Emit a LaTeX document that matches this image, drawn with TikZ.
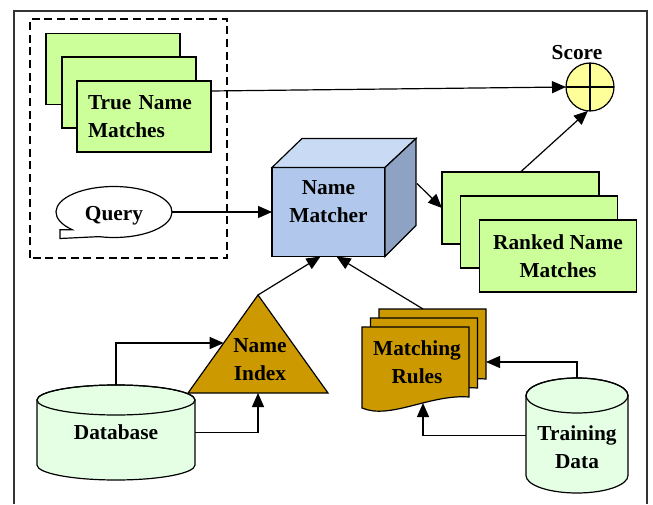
\documentclass[tikz,border=0pt]{standalone}
\usepackage{fontspec}
\setmainfont{Liberation Serif}
\usetikzlibrary{arrows.meta,calc,shapes.geometric}

\definecolor{sheetgreen}{HTML}{CCFF99}
\definecolor{cylgreen}{HTML}{E5FFE5}
\definecolor{gold}{HTML}{CC9900}
\definecolor{cubefront}{HTML}{B1C8EC}
\definecolor{cubetop}{HTML}{C8DAF4}
\definecolor{cubeside}{HTML}{8EA2C3}
\definecolor{scoreyellow}{HTML}{FFFF99}

\begin{document}
\begin{tikzpicture}[x=0.75pt,y=0.75pt,
  every node/.style={font=\bfseries\fontsize{16}{21}\selectfont, outer sep=0pt},
  shape line/.style={draw=black, line width=0.9pt},
  sheet/.style={shape line, fill=sheetgreen, rectangle, minimum width=100.5pt, minimum height=53.25pt},
  ranked/.style={shape line, fill=sheetgreen, rectangle, minimum width=117.75pt, minimum height=54pt, align=center},
  docsheet/.style={shape line, fill=gold},
  arr/.style={line width=0.9pt, -{Triangle[length=10.5pt,width=9pt]}},
  plain/.style={line width=0.9pt},
  label text/.style={align=center, inner sep=0pt},
]
\useasboundingbox (0,0) rectangle (653,504);

% outer frame
\draw[line width=0.8pt, draw=black!80] (14,0) -- (14,493) -- (647,493) -- (647,0);
% dashed group around the ground truth and the query
\draw[line width=0.8pt, dash pattern=on 6pt off 3.5pt] (30,246) rectangle (227,485);

% true name matches (stack of sheets)
\node[sheet] (tnm1) at (113,435) {};
\node[sheet] (tnm2) at (129,411.5) {};
\node[sheet, text width=84pt, inner xsep=8.25pt, align=left] (tnm3) at (144,387.5) {True Name\\Matches};

% query callout
\coordinate (qc) at (114,292);
\draw[shape line, fill=white] ([shift={(224:43.5pt and 19.125pt)}]qc)
  arc[start angle=224, end angle=-105, x radius=43.5pt, y radius=19.125pt]
  -- (60,265.5) -- (60,274.3) -- cycle;
\node[ellipse, minimum width=87pt, minimum height=38.25pt, inner sep=0pt] (query) at (qc) {};
\node[label text] (qtext) at ([yshift=-2.5pt]query.center) {Query};

% name matcher cube
\node[shape line, fill=cubefront, minimum width=84.75pt, minimum height=66.75pt] (nm) at (328.5,292) {};
\draw[shape line, fill=cubetop] (nm.north west) -- ++(30,29) -- ++(114,0) -- (nm.north east) -- cycle;
\draw[shape line, fill=cubeside] (nm.north east) -- ++(31,29) -- ++(0,-87) -- (nm.south east) -- cycle;
\node[label text] (nmtext) at (328.5,302) {Name\\Matcher};
\coordinate (nmOut) at ($(nm.north east)+(32,-16)$);

% score
\node[shape line, circle, fill=scoreyellow, minimum size=36pt, inner sep=0pt] (score) at (590,417) {};
\draw[plain] (score.north) -- (score.south) (score.west) -- (score.east);
\node (scorelabel) at (577,451) {Score};

% ranked name matches (stack of sheets)
\node[ranked] (rk1) at (520.5,296) {};
\node[ranked] (rk2) at (539,272) {};
\node[ranked] (rk3) at (558,248) {Ranked Name\\Matches};

% name index
\coordinate (niT) at (258,209);
\coordinate (niL) at (188,111);
\coordinate (niR) at (328,111);
\draw[shape line, fill=gold] (niL) -- (niT) -- (niR) -- cycle;
\node[label text] (ni) at (260,144) {Name\\Index};

% database cylinder
\draw[shape line, fill=cylgreen] (37,104) -- (37,39)
  arc[start angle=180, end angle=360, x radius=59.25pt, y radius=11.25pt]
  -- (195,104)
  arc[start angle=0, end angle=180, x radius=59.25pt, y radius=11.25pt] -- cycle;
\draw[shape line] (116,104) ellipse[x radius=59.25pt, y radius=11.25pt];
\node[minimum width=118.5pt, minimum height=71.25pt, inner sep=0pt] (db) at (116,71.5) {Database};

% training data cylinder
\draw[shape line, fill=cylgreen] (526,108.5) -- (526,28.5)
  arc[start angle=180, end angle=360, x radius=38.25pt, y radius=13.125pt]
  -- (628,108.5)
  arc[start angle=0, end angle=180, x radius=38.25pt, y radius=13.125pt] -- cycle;
\draw[shape line] (577,108.5) ellipse[x radius=38.25pt, y radius=13.125pt];
\node[minimum width=76.5pt, minimum height=86.25pt, inner sep=0pt] (td) at (577,68.5) {};
\node[label text] (tdtext) at (577,57) {Training\\Data};

% matching rules (stack of documents)
\foreach \dx/\dy in {17/18, 8.5/9, 0/0}
  \draw[docsheet, shift={(\dx,\dy)}] (362,177) -- (469,177) -- (469,107)
    .. controls (430,110) and (390,84) .. (362,96) -- cycle;
\node[label text] (mr) at (417,141.5) {Matching\\Rules};
\coordinate (mrTop) at (423,195);
\coordinate (mrSide) at (486,142);
\coordinate (mrBottom) at (423,101);

% connectors
\draw[arr] ([yshift=-7.5pt]tnm3.north east) -- (score.west);
\draw[arr] (query.east) -- (nm.west);
\draw[arr] (nmOut) -- (rk1.west);
\draw[arr] (rk1.north) -- (score.265);
\draw[arr] (niT) -- ([xshift=-6pt]nm.south);
\draw[arr] (mrTop) -- ([xshift=6pt]nm.south);
\draw[arr] (db.north) |- ($(niL)!0.51!(niT)$);
\draw[arr] (db.east) -| ($(niL)!0.5!(niR)$);
\draw[arr] (td.north) |- (mrSide);
\draw[arr] (td.west) -| (mrBottom);
\end{tikzpicture}
\end{document}
